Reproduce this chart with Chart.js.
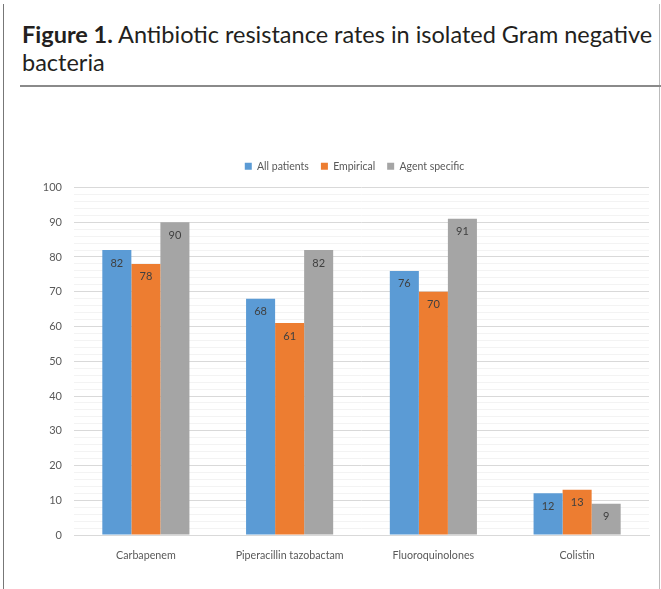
<!DOCTYPE html>
<html>
<head>
<meta charset="utf-8">
<script src="https://cdn.jsdelivr.net/npm/chart.js@4.4.1/dist/chart.umd.min.js"></script>
<style>
  html, body { margin: 0; padding: 0; background: #fff; }
  body { width: 661px; height: 589px; position: relative; overflow: hidden; }
  .frame-left { position: absolute; left: 3px; top: 4px; width: 1px; height: 585px; background: #777; }
  .frame-right { position: absolute; left: 659px; top: 4px; width: 1px; height: 585px; background: #bbb; }
  .title { position: absolute; left: 22px; top: 20px; width: 640px; font-family: "Lato", sans-serif; font-size: 23.5px; line-height: 28px; color: #231f20; }
  .title b { font-weight: 700; }
  .rule { position: absolute; left: 20px; top: 85px; width: 641px; height: 2px; background: #8a8a8a; }
  #wrap { position: absolute; left: 0; top: 155px; width: 661px; height: 415px; }
</style>
</head>
<body>
<div class="frame-left"></div>
<div class="frame-right"></div>
<div class="title"><b>Figure 1.</b> Antibiotic resistance rates in isolated Gram negative bacteria</div>
<div class="rule"></div>
<div id="wrap"><canvas id="chart"></canvas></div>
<script>
// ---- data ----
const CATEGORIES = ['Carbapenem', 'Piperacillin tazobactam', 'Fluoroquinolones', 'Colistin'];
const ALL_PATIENTS = [82, 68, 76, 12];
const EMPIRICAL = [78, 61, 70, 13];
const AGENT_SPECIFIC = [90, 82, 91, 9];
const SERIES_NAMES = ['All patients', 'Empirical', 'Agent specific'];
const Y_MAX = 100;

const COLORS = { blue: '#5b9bd5', orange: '#ed7d31', gray: '#a5a5a5', text: '#595959', label: '#404040' };

// value labels just inside the top of each bar
const barLabels = {
  id: 'barLabels',
  afterDatasetsDraw(chart) {
    const ctx = chart.ctx;
    ctx.save();
    ctx.font = '11px Lato, sans-serif';
    ctx.fillStyle = COLORS.label;
    ctx.textAlign = 'center';
    ctx.textBaseline = 'middle';
    chart.data.datasets.forEach((ds, i) => {
      chart.getDatasetMeta(i).data.forEach((bar, j) => {
        ctx.fillText(String(ds.data[j]), bar.x, bar.y + 13);
      });
    });
    ctx.restore();
  }
};

// nudge the legend a bit right and up, like the Excel original
const legendNudge = {
  id: 'legendNudge',
  afterLayout(chart) {
    const lg = chart.legend;
    if (!lg) return;
    lg.left += 30; lg.right += 30;
    lg.top -= 6; lg.bottom -= 6;
  }
};

Chart.defaults.font.family = 'Lato, sans-serif';
Chart.defaults.color = COLORS.text;

new Chart(document.getElementById('chart'), {
  type: 'bar',
  data: {
    labels: CATEGORIES,
    datasets: [
      { label: SERIES_NAMES[0], data: ALL_PATIENTS, backgroundColor: COLORS.blue },
      { label: SERIES_NAMES[1], data: EMPIRICAL, backgroundColor: COLORS.orange },
      { label: SERIES_NAMES[2], data: AGENT_SPECIFIC, backgroundColor: COLORS.gray },
    ],
  },
  options: {
    responsive: true,
    maintainAspectRatio: false,
    animation: false,
    layout: { padding: { top: 0, right: 12, bottom: 0, left: 0 } },
    datasets: { bar: { categoryPercentage: 0.606, barPercentage: 1.0 } },
    plugins: {
      legend: {
        position: 'top',
        labels: { boxWidth: 7, boxHeight: 7, padding: 12, font: { size: 10.5 }, color: COLORS.text },
      },
      tooltip: { enabled: false },
    },
    scales: {
      x: {
        grid: { display: false },
        border: { color: '#d9d9d9' },
        ticks: { font: { size: 10.7 }, color: COLORS.text, padding: 6 },
        afterFit(scale) { scale.height = 35; },
      },
      y: {
        min: 0, max: Y_MAX,
        border: { display: false },
        grid: {
          color: ctx => (ctx.tick && ctx.tick.value % 10 === 0) ? '#d9d9d9' : '#f3f3f3',
          drawTicks: false,
        },
        ticks: {
          stepSize: 2,
          autoSkip: false,
          padding: 12,
          font: { size: 11 },
          color: COLORS.text,
          callback: v => (v % 10 === 0 ? v : ''),
        },
        afterFit(scale) { scale.width = 74; },
      },
    },
  },
  plugins: [barLabels, legendNudge],
});
</script>
</body>
</html>
